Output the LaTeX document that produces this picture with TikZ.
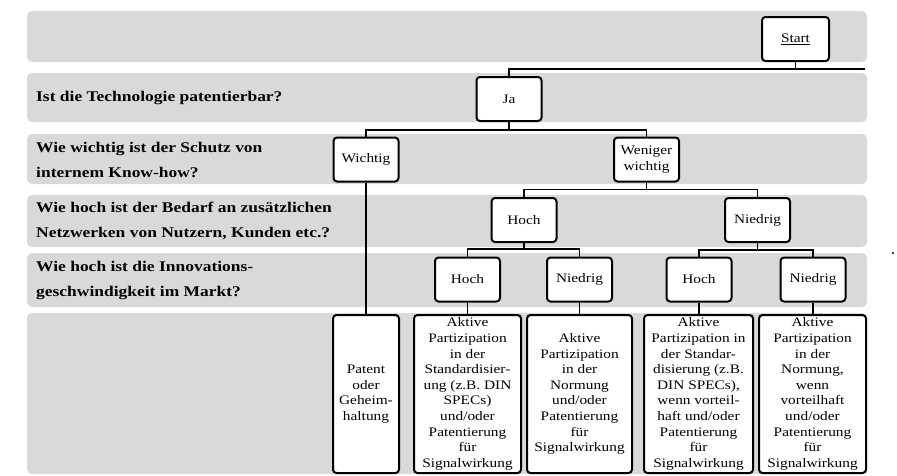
\documentclass[tikz,border=0pt]{standalone}
\usepackage{fontspec}
\setmainfont{Liberation Serif}[FakeStretch=1.18]
\definecolor{bandfill}{RGB}{217,217,217}
\tikzset{
  band/.style={fill=bandfill, rounded corners=5pt},
  box/.style={draw=black, line width=2pt, fill=white, rounded corners=3.5pt,
    font=\fontsize{13}{15.6}\selectfont, align=center, inner sep=0pt},
  sm/.style={box, minimum width=65pt, minimum height=44pt},
  res/.style={box, minimum height=158pt},
  qlabel/.style={anchor=west, font=\fontsize{14.8}{25}\selectfont\bfseries, align=left, inner sep=0pt},
  conn/.style={line width=1.9pt}
}
\begin{document}
\begin{tikzpicture}[x=1pt,y=-1pt]
\useasboundingbox (0,0) rectangle (897,475);
\fill[white] (0,0) rectangle (897,475);
% bands
\fill[band] (27,11) rectangle (867,62);
\fill[band] (27,73) rectangle (867,122);
\fill[band] (27,134) rectangle (867,184);
\fill[band] (27,195) rectangle (867,247);
\fill[band] (27,253) rectangle (867,307);
\fill[band] (27,313) rectangle (867,474);
% questions
\node[qlabel] (q2) at (36,98) {Ist die Technologie patentierbar?};
\node[qlabel] (q3) at (36,159.5) {Wie wichtig ist der Schutz von\\internem Know-how?};
\node[qlabel] (q4) at (36,220.5) {Wie hoch ist der Bedarf an zusätzlichen\\Netzwerken von Nutzern, Kunden etc.?};
\node[qlabel] (q5) at (36,280) {Wie hoch ist die Innovations-\\geschwindigkeit im Markt?};
% decision nodes
\node[sm, minimum width=67pt] (start) at (795.5,39) {\underline{Start}};
\node[sm] (ja) at (509,99) {Ja};
\node[sm] (wichtig) at (366,159.5) {Wichtig};
\node[sm] (weniger) at (646.5,159.5) {Weniger\\wichtig};
\node[sm] (hoch) at (524,220) {Hoch};
\node[sm] (niedrig) at (757.5,220) {Niedrig};
\node[sm] (hh) at (467.5,279.5) {Hoch};
\node[sm] (hn) at (579.5,279.5) {Niedrig};
\node[sm] (nh) at (699,279.5) {Hoch};
\node[sm] (nn) at (813,279.5) {Niedrig};
% results
\node[res, minimum width=66pt] (r1) at (366,394) {Patent\\oder\\Geheim-\\haltung};
\node[res, minimum width=107pt] (r2) at (467.5,394) {Aktive\\Partizipation\\in der\\Standardisier-\\ung (z.B. DIN\\SPECs)\\und/oder\\Patentierung\\für\\Signalwirkung};
\node[res, minimum width=105pt] (r3) at (579.5,394) {Aktive\\Partizipation\\in der\\Normung\\und/oder\\Patentierung\\für\\Signalwirkung};
\node[res, minimum width=109pt] (r4) at (698.5,394) {Aktive\\Partizipation in\\der Standar-\\disierung (z.B.\\DIN SPECs),\\wenn vorteil-\\haft und/oder\\Patentierung\\für\\Signalwirkung};
\node[res, minimum width=107pt] (r5) at (812.5,394) {Aktive\\Partizipation\\in der\\Normung,\\wenn\\vorteilhaft\\und/oder\\Patentierung\\für\\Signalwirkung};
% connectors
\coordinate (rend) at (865,69);
\draw[conn] (start.south) -- (start.south |- rend);
\draw[conn] (ja.north) |- (rend);
\draw[conn] (ja.south) -- ++(0,8) coordinate (jb);
\draw[conn] (wichtig.north) |- (jb) -| (weniger.north);
\draw[conn] (weniger.south) -- ++(0,7) coordinate (wb);
\draw[conn] (hoch.north) |- (wb) -| (niedrig.north);
\draw[conn] (hoch.south) -- ++(0,6) coordinate (hb);
\draw[conn] (hh.north) |- (hb) -| (hn.north);
\draw[conn] (niedrig.south) -- ++(0,7) coordinate (nb);
\draw[conn] (nh.north) |- (nb) -| (nn.north);
\draw[conn] (wichtig.south) -- (wichtig.south |- r1.north);
\draw[conn] (hh.south) -- (hh.south |- r2.north);
\draw[conn] (hn.south) -- (hn.south |- r3.north);
\draw[conn] (nh.south) -- (nh.south |- r4.north);
\draw[conn] (nn.south) -- (nn.south |- r5.north);
% stray dot
\fill (893,253) circle (1.2);
\end{tikzpicture}
\end{document}
